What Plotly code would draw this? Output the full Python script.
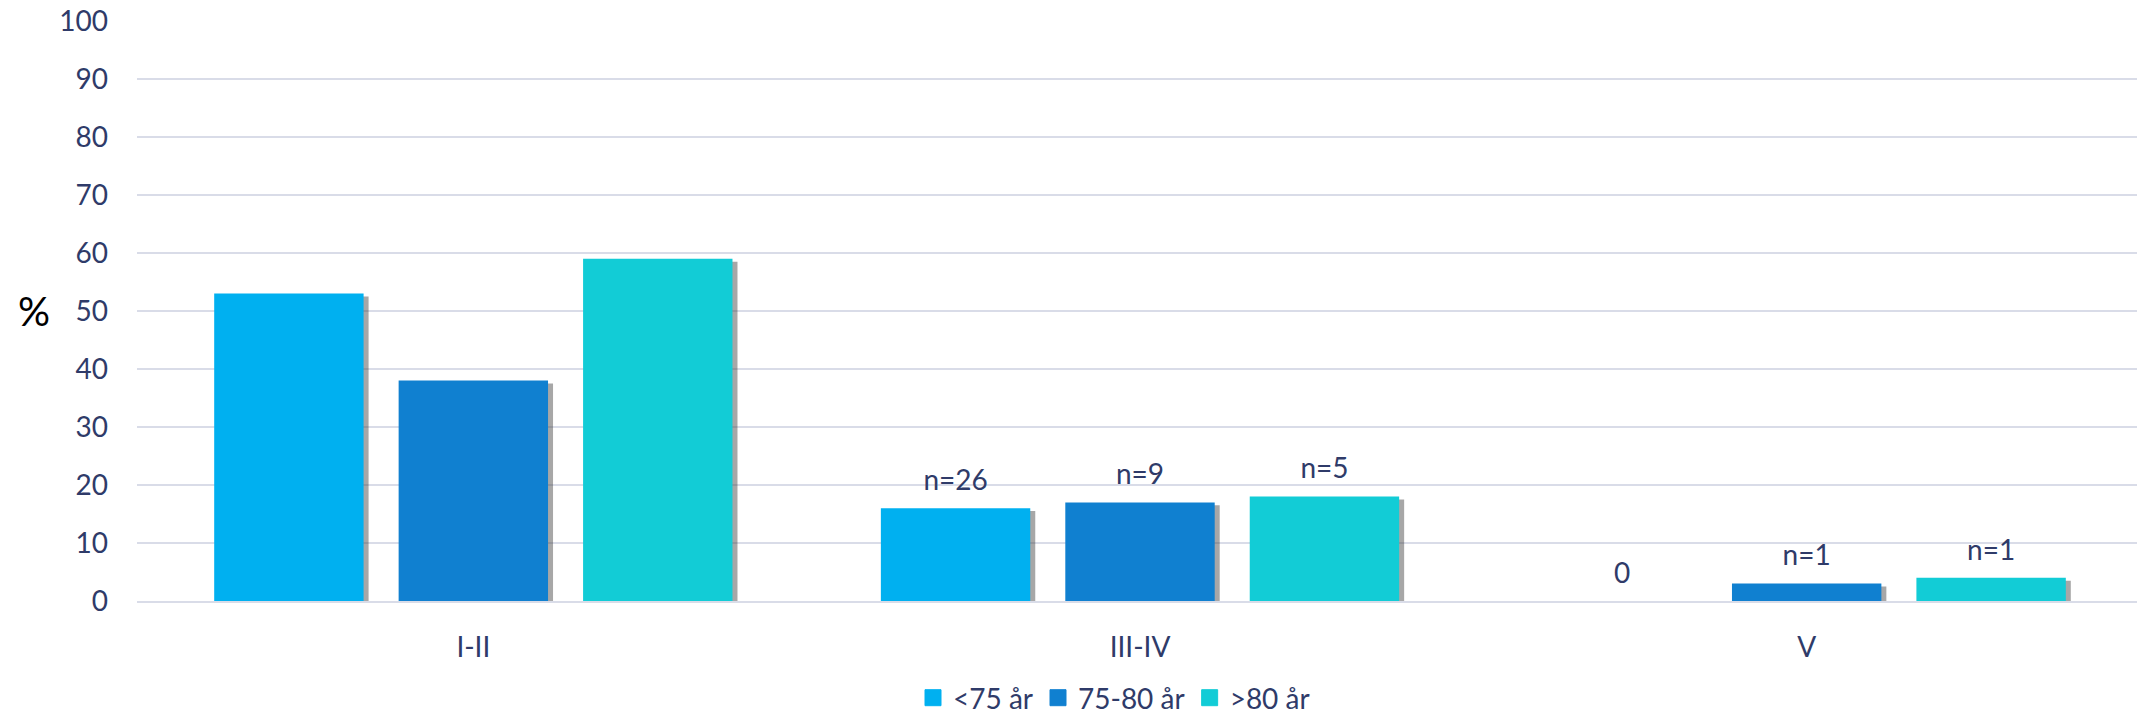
import plotly.graph_objects as go

categories = ["I-II", "III-IV", "V"]
series_names = ["<75 år", "75-80 år", ">80 år"]
values_lt75 = [53, 16, 0]
values_75_80 = [38, 17, 3]
values_gt80 = [59, 18, 4]
labels_lt75 = ["", "n=26", "0"]
labels_75_80 = ["", "n=9", "n=1"]
labels_gt80 = ["", "n=5", "n=1"]
colors = ["#00B0F0", "#1080D0", "#12CCD6"]
y_ticks = [0, 10, 20, 30, 40, 50, 60, 70, 80, 90, 100]

TEXT = "#2F3B69"
FONT = "Lato"
FS = 28
W, H = 2141, 714
L, R, T, B = 137, 0, 21, 113
PW = W - L - R
CAT_PX = 2000 / 3          # pixel width of one category
X0 = 140                   # pixel where category -0.5 starts
SHADOW_DX = 5              # shadow offset to the right, px
LABEL_LIFT = 1.6           # label layer raised slightly above the bars (axis units)


def xaxis_for(a, b, shift=0, **kw):
    x0 = X0 + shift
    return dict(domain=[(a - L) / PW, (b - L) / PW],
                range=[-0.5 + (a - x0) / CAT_PX, -0.5 + (b - x0) / CAT_PX], **kw)


all_vals = [values_lt75, values_75_80, values_gt80]
all_labs = [labels_lt75, labels_75_80, labels_gt80]

fig = go.Figure()
# base axes: grid + tick labels
fig.add_trace(go.Scatter(x=categories, y=[None] * len(categories), xaxis="x", yaxis="y",
                         showlegend=False, hoverinfo="skip", mode="markers"))
# shadows
for vals in all_vals:
    fig.add_trace(go.Bar(x=categories, y=vals, base=-0.5, xaxis="x2", yaxis="y2",
                         marker=dict(color="rgba(60,60,60,0.45)", line=dict(width=0)),
                         showlegend=False, hoverinfo="skip", cliponaxis=False))
# main bars
for name, vals, col in zip(series_names, all_vals, colors):
    fig.add_trace(go.Bar(
        x=categories, y=vals, name=name, xaxis="x3", yaxis="y3",
        marker=dict(color=col, line=dict(width=0)),
        cliponaxis=False, showlegend=False,
    ))
# data labels (transparent bars on a slightly lifted axis)
for vals, labs in zip(all_vals, all_labs):
    fig.add_trace(go.Bar(
        x=categories, y=vals, xaxis="x4", yaxis="y4",
        marker=dict(color="rgba(0,0,0,0)", line=dict(width=0)),
        text=labs, textposition="outside", cliponaxis=False, showlegend=False,
        hoverinfo="skip", textfont=dict(family=FONT, size=FS, color=TEXT),
    ))
# legend entries
for name, col in zip(series_names, colors):
    fig.add_trace(go.Scatter(x=[None], y=[None], name=name, mode="markers", xaxis="x3", yaxis="y3",
                             marker=dict(symbol="square", size=16, color=col,
                                         line=dict(width=1, color=col))))

fig.update_layout(
    template="none",
    width=W, height=H,
    margin=dict(l=L, r=R, t=T, b=B, autoexpand=False),
    paper_bgcolor="white", plot_bgcolor="rgba(0,0,0,0)",
    barmode="group", bargap=0.17, bargroupgap=0.19,
    font=dict(family=FONT, size=FS, color=TEXT),
    showlegend=True,
    legend=dict(orientation="h", x=1114 / W, xref="container", xanchor="center",
                y=1 - 698 / H, yref="container", yanchor="middle",
                font=dict(family=FONT, size=FS, color=TEXT), itemwidth=30,
                itemsizing="trace", traceorder="normal", bgcolor="rgba(0,0,0,0)"),
    annotations=[dict(text="%", xref="paper", yref="paper", x=(34 - L) / PW, y=0.5,
                      showarrow=False, xanchor="center", yanchor="middle",
                      font=dict(family=FONT, size=40, color="black"))],
    xaxis=xaxis_for(137, 2137, showgrid=False, showline=True,
                    linecolor="#D9DCE8", linewidth=2, ticks="", ticklabelstandoff=20,
                    automargin=False, zeroline=False,
                    tickfont=dict(family=FONT, size=FS, color=TEXT), fixedrange=True),
    yaxis=dict(range=[0, 100], tickvals=y_ticks, showgrid=True, gridcolor="#D9DCE8",
               gridwidth=2, zeroline=False, showline=False, ticks="", automargin=False,
               ticklabelstandoff=28, tickfont=dict(family=FONT, size=FS, color=TEXT)),
    xaxis2=xaxis_for(140, 2141, shift=SHADOW_DX, anchor="y2", visible=False),
    yaxis2=dict(domain=[0, 1], range=[0, 100], anchor="x2", visible=False),
    xaxis3=xaxis_for(140, 2141, anchor="y3", visible=False),
    yaxis3=dict(domain=[0, 1], range=[0, 100], anchor="x3", visible=False),
    xaxis4=xaxis_for(140, 2141, anchor="y4", visible=False),
    yaxis4=dict(domain=[0, 1], range=[-LABEL_LIFT, 100 - LABEL_LIFT], anchor="x4", visible=False),
)

fig.write_html("out.html", config={"displayModeBar": False},
               post_script="document.body.style.margin='0';document.body.style.overflow='hidden';")
